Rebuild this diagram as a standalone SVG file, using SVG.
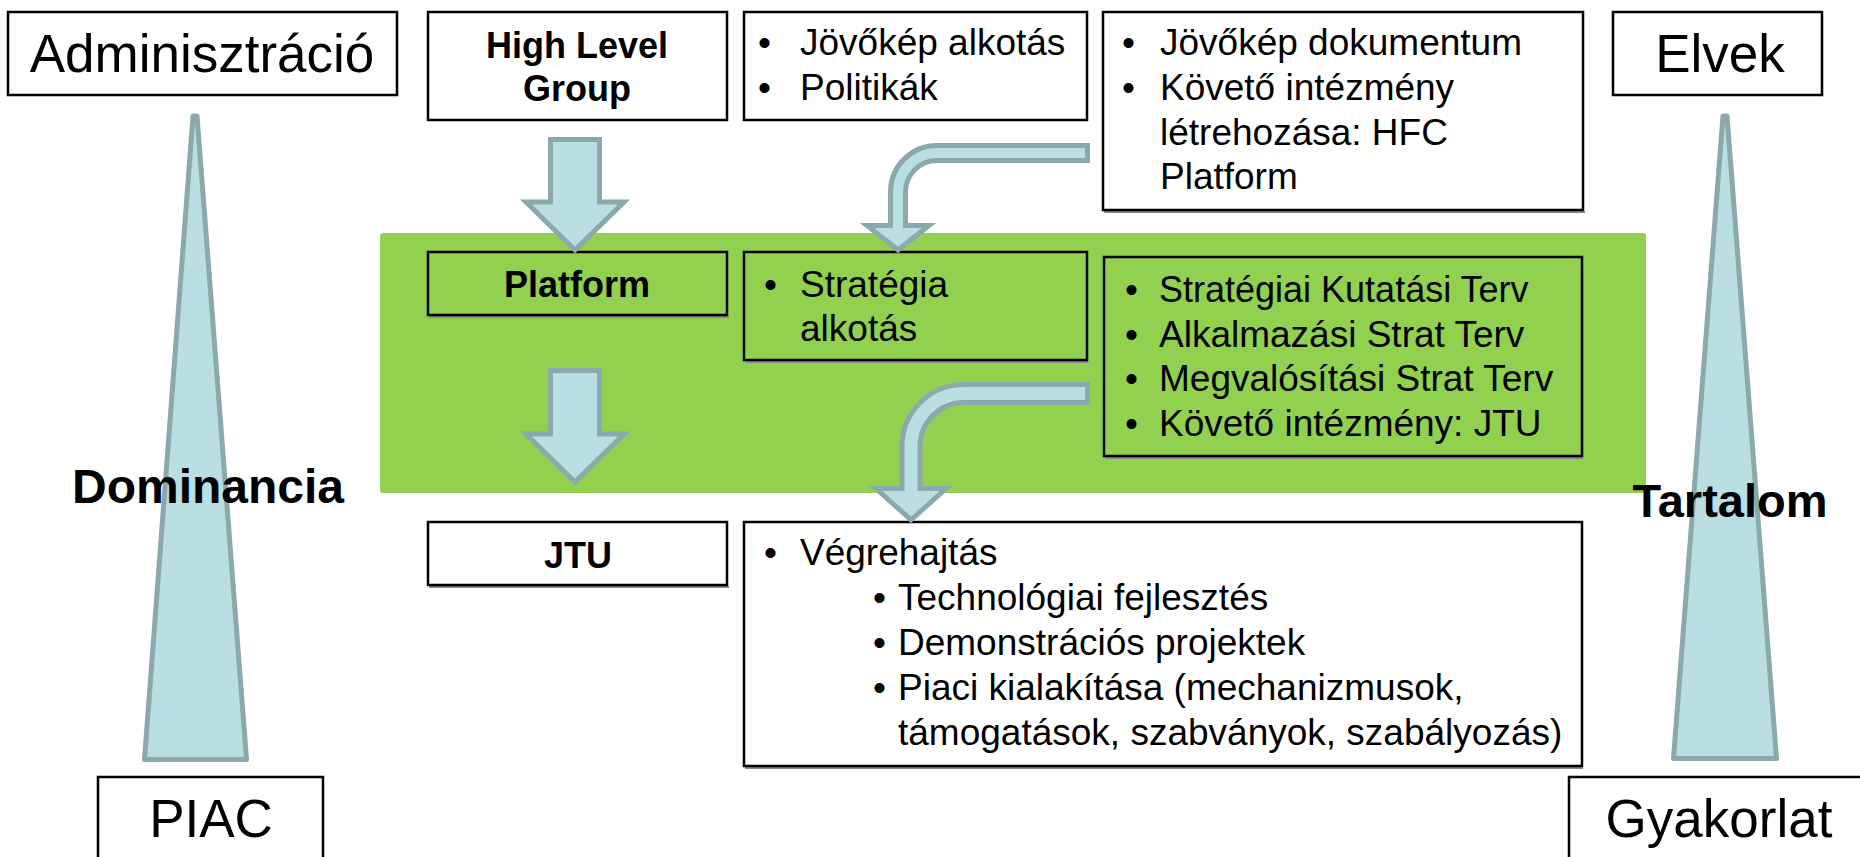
<svg xmlns="http://www.w3.org/2000/svg" width="1860" height="857" viewBox="0 0 1860 857">
<style>
.box{fill:#fff;stroke:#000;stroke-width:2.5}
.boxg{fill:none;stroke:#000;stroke-width:2.5}
.sh{stroke:#8a8a8a;stroke-width:2}
.arr{fill:#BADFE3;stroke:#8BA8AB;stroke-width:5;stroke-linejoin:miter}
.tri{fill:#BADFE3;stroke:#8BA8AB;stroke-width:5;stroke-linejoin:round}
.t{font-family:"Liberation Sans",Arial,sans-serif;font-size:37px;fill:#000}
.b{font-weight:bold;font-size:36px}
.big{font-size:53px}
.mid{text-anchor:middle}
</style>
<rect width="1860" height="857" fill="#fff"/>

<g id="green-band"><rect x="380" y="233" width="1266" height="260" rx="3" fill="#92D050"/></g>

<g id="dominancia-triangle">
<path class="tri" d="M193,116 L197,116 L246.5,759.5 L144.5,759.5 Z"/>
<text class="t b mid" x="208" y="503" style="font-size:48px">Dominancia</text>
</g>
<g id="tartalom-triangle">
<path class="tri" d="M1723,116 L1727,116 L1776.5,758.5 L1673.5,758.5 Z"/>
<text class="t b mid" x="1730" y="517" style="font-size:47px">Tartalom</text>
</g>

<g id="adminisztracio">
<rect class="box" x="8" y="12" width="389" height="83"/>
<text class="t big mid" x="202" y="72">Adminisztráció</text>
</g>
<g id="high-level-group">
<rect class="box" x="428" y="12" width="299" height="108"/>
<text class="t b mid" x="577" y="58">High Level</text>
<text class="t b mid" x="577" y="101">Group</text>
</g>
<g id="jovokep-alkotas">
<rect class="box" x="744" y="12" width="343" height="108"/>
<text class="t" x="758" y="55">•</text><text class="t" x="800" y="55">Jövőkép alkotás</text>
<text class="t" x="758" y="100">•</text><text class="t" x="800" y="100">Politikák</text>
</g>
<g id="jovokep-dokumentum">
<line class="sh" x1="1104" y1="212" x2="1585" y2="212"/>
<rect class="box" x="1103" y="12" width="480" height="198"/>
<text class="t" x="1122" y="55">•</text><text class="t" x="1160" y="55">Jövőkép dokumentum</text>
<text class="t" x="1122" y="100">•</text><text class="t" x="1160" y="100">Követő intézmény</text>
<text class="t" x="1160" y="145">létrehozása: HFC</text>
<text class="t" x="1160" y="189">Platform</text>
</g>
<g id="elvek">
<rect class="box" x="1613" y="12" width="209" height="83"/>
<text class="t big mid" x="1720" y="72">Elvek</text>
</g>

<g id="platform">
<line class="sh" x1="429" y1="317" x2="729" y2="317"/>
<rect class="boxg" x="428" y="252" width="299" height="63"/>
<text class="t b mid" x="577" y="297">Platform</text>
</g>
<g id="strategia-alkotas">
<line class="sh" x1="745" y1="362" x2="1088" y2="362"/>
<rect class="boxg" x="744" y="252" width="343" height="108"/>
<text class="t" x="764" y="297">•</text><text class="t" x="800" y="297">Stratégia</text>
<text class="t" x="800" y="341">alkotás</text>
</g>
<g id="strategiai-tervek">
<line class="sh" x1="1105" y1="458" x2="1583" y2="458"/>
<rect class="boxg" x="1104" y="257" width="478" height="199"/>
<text class="t" x="1125" y="302">•</text><text class="t" x="1159" y="302" style="font-size:36px">Stratégiai Kutatási Terv</text>
<text class="t" x="1125" y="347">•</text><text class="t" x="1159" y="347">Alkalmazási Strat Terv</text>
<text class="t" x="1125" y="391">•</text><text class="t" x="1159" y="391">Megvalósítási Strat Terv</text>
<text class="t" x="1125" y="436">•</text><text class="t" x="1159" y="436">Követő intézmény: JTU</text>
</g>

<g id="jtu">
<line class="sh" x1="429" y1="587" x2="729" y2="587"/>
<rect class="box" x="428" y="522" width="299" height="63"/>
<text class="t b mid" x="578" y="568">JTU</text>
</g>
<g id="vegrehajtas">
<line class="sh" x1="745" y1="768" x2="1583" y2="768"/>
<rect class="box" x="744" y="522" width="838" height="244"/>
<text class="t" x="764" y="565">•</text><text class="t" x="800" y="565">Végrehajtás</text>
<text class="t" x="873" y="610">•</text><text class="t" x="898" y="610">Technológiai fejlesztés</text>
<text class="t" x="873" y="655">•</text><text class="t" x="898" y="655">Demonstrációs projektek</text>
<text class="t" x="873" y="700">•</text><text class="t" x="898" y="700">Piaci kialakítása (mechanizmusok,</text>
<text class="t" x="898" y="745">támogatások, szabványok, szabályozás)</text>
</g>

<g id="piac">
<rect class="box" x="98" y="777" width="225" height="100"/>
<text class="t big mid" x="211" y="837">PIAC</text>
</g>
<g id="gyakorlat">
<rect class="box" x="1569" y="777" width="300" height="100"/>
<text class="t big mid" x="1719" y="837">Gyakorlat</text>
</g>

<g id="connectors">
<path class="arr" d="M550.5,139.5 H599.5 V202 H624 L575,250 L526,202 H550.5 Z"/>
<path class="arr" d="M550.5,370.5 H599.5 V434 H624 L575,482 L526,434 H550.5 Z"/>
<path class="arr" d="M1087.5,145.5 V160.5 H937 A31.5,31.5 0 0 0 905.5,192 V225.5 H929 L898,250 L867,225.5 H890.5 V192 A46.5,46.5 0 0 1 937,145.5 Z"/>
<path class="arr" d="M1087.5,384.5 V402.5 H964 A44,44 0 0 0 920,446.5 V488.5 H946 L911,520 L876,488.5 H902 V446.5 A62,62 0 0 1 964,384.5 Z"/>
</g>
</svg>
